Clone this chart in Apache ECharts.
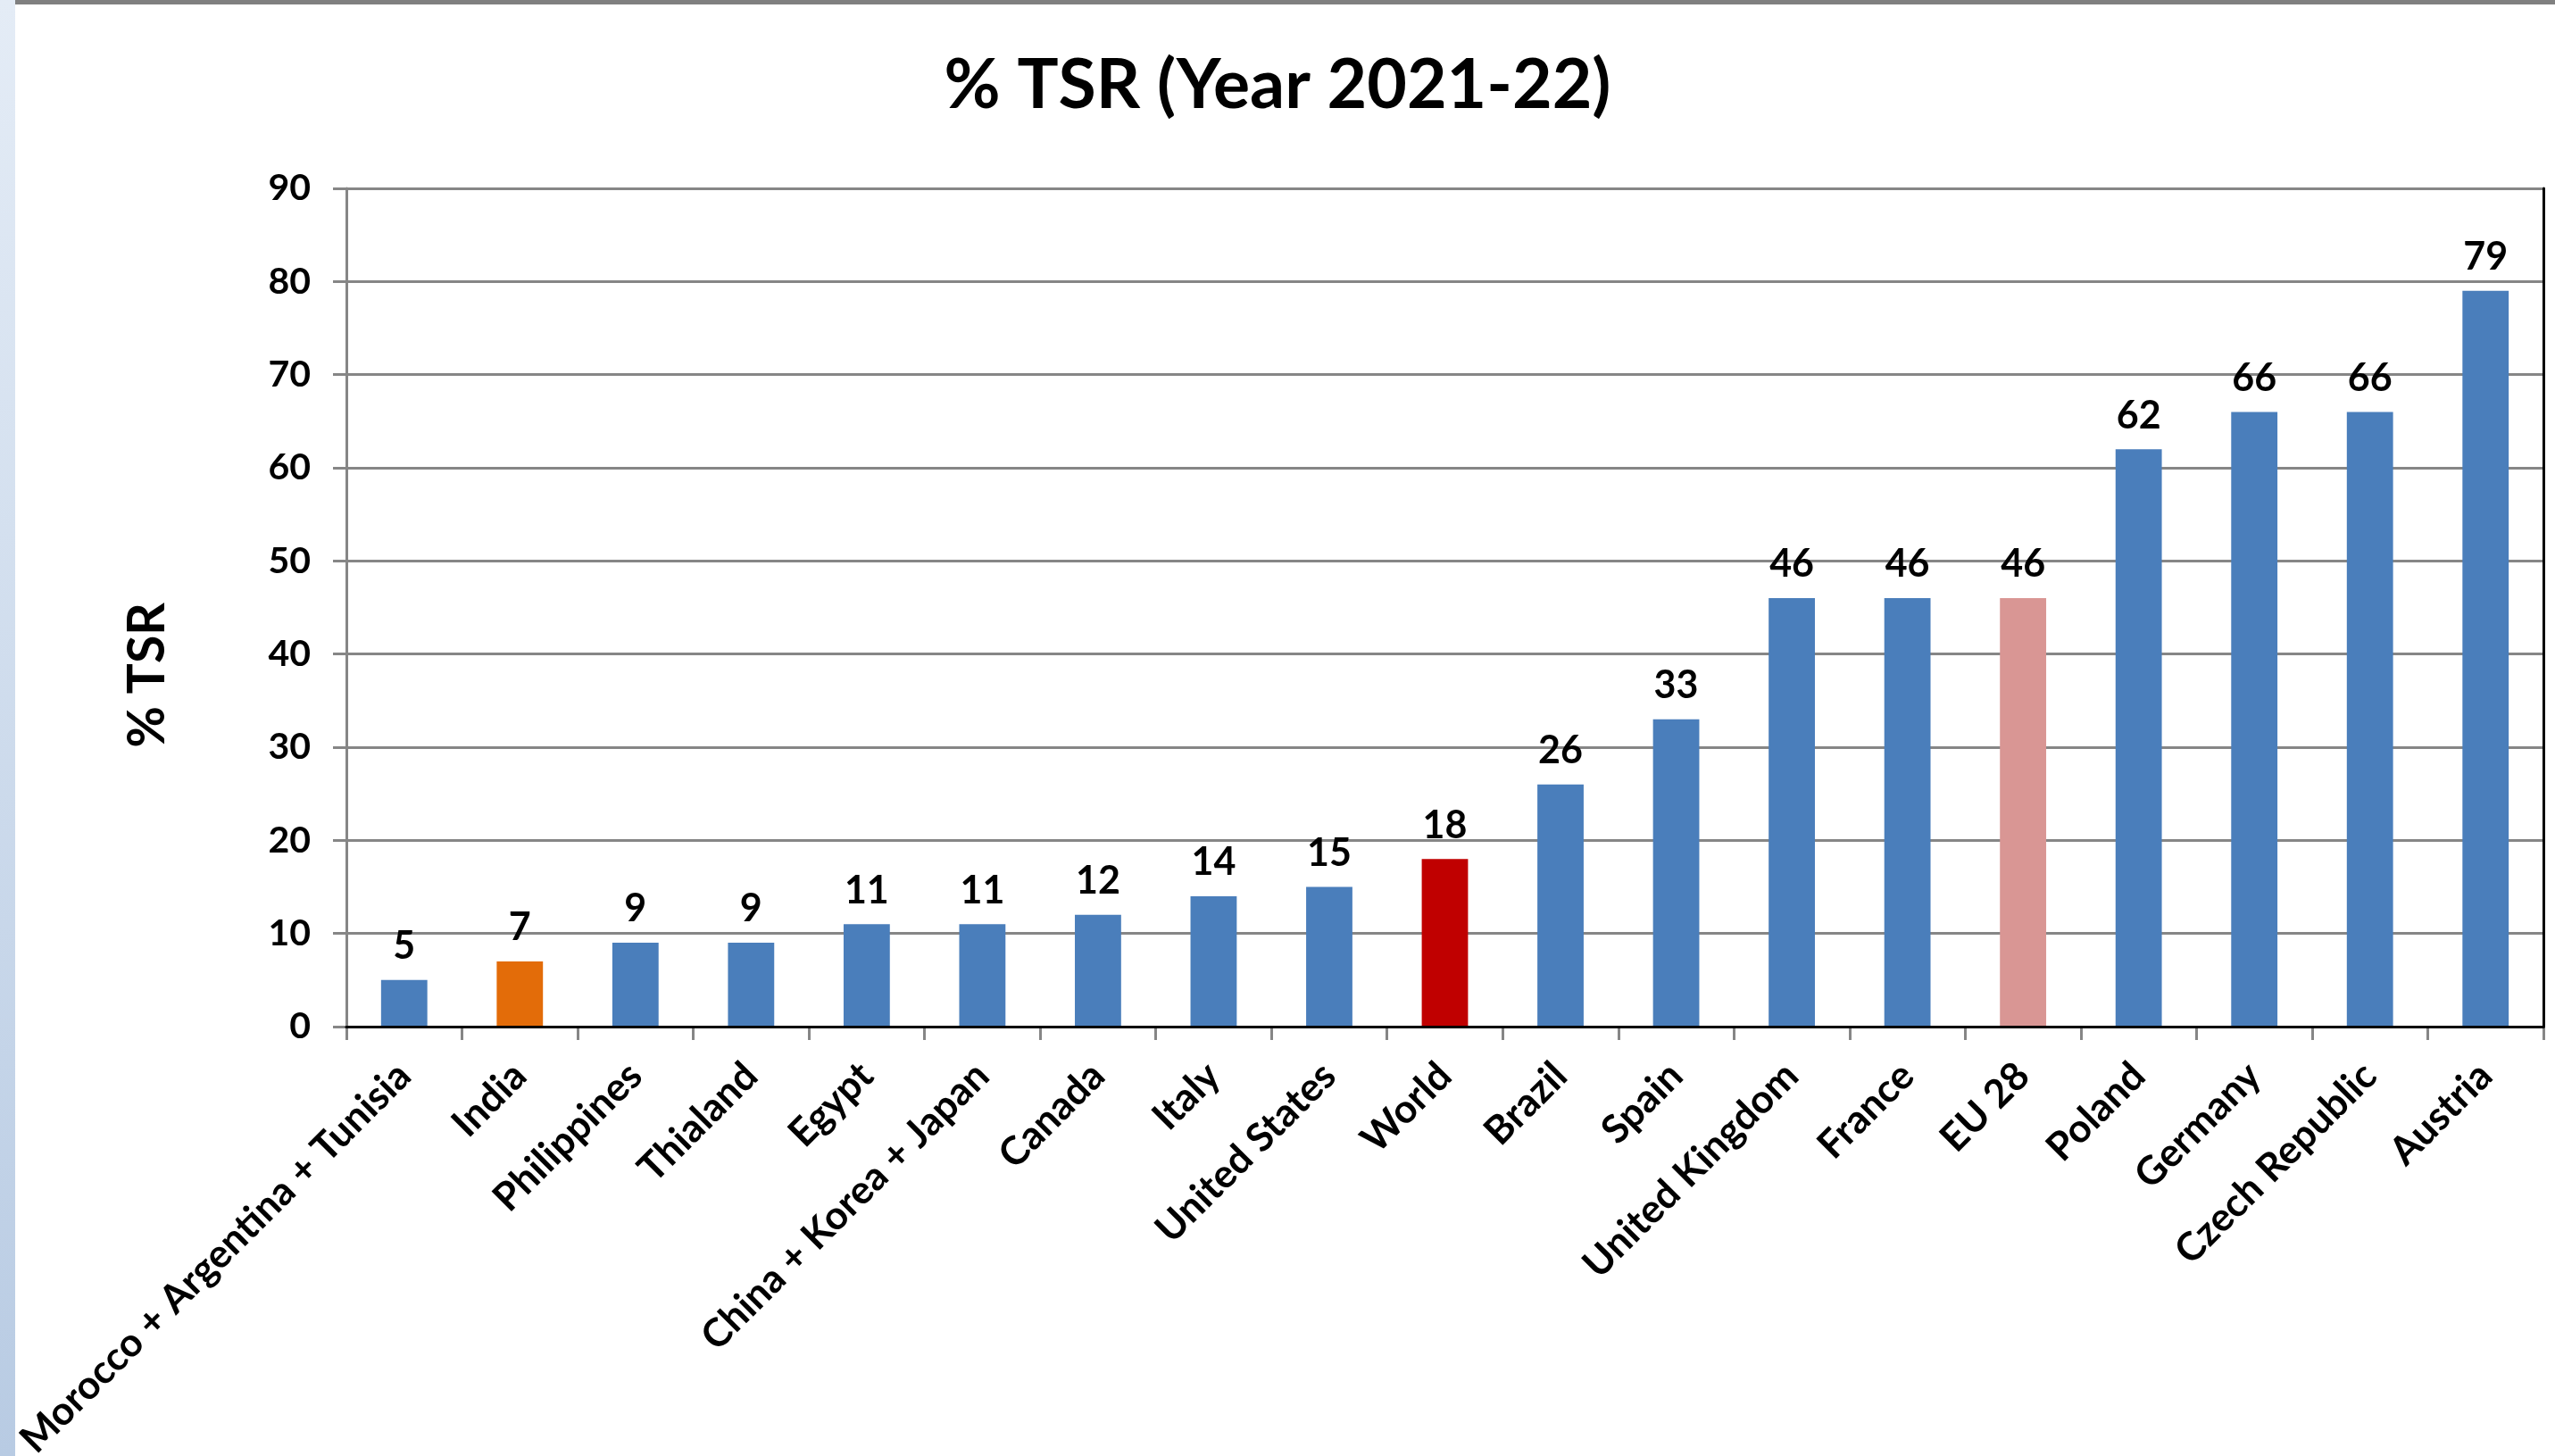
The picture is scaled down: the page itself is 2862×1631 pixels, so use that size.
<!DOCTYPE html>
<html>
<head>
<meta charset="utf-8">
<style>
html,body{margin:0;padding:0;background:#fff;}
#chart{width:2862px;height:1631px;}
</style>
<script src="https://cdn.jsdelivr.net/npm/echarts@6/dist/echarts.min.js"></script>
</head>
<body>
<div id="chart"></div>
<script>
const categories = ["Morocco + Argentina + Tunisia","India","Philippines","Thialand","Egypt","China + Korea + Japan","Canada","Italy","United States","World","Brazil","Spain","United Kingdom","France","EU 28","Poland","Germany","Czech Republic","Austria"];
const tsrValues = [5,7,9,9,11,11,12,14,15,18,26,33,46,46,46,62,66,66,79];
const yTicks = [0,10,20,30,40,50,60,70,80,90];

const FONT = 'Lato';
const baseColor = '#4a7ebb';
const highlight = {"India":"#e36c09","World":"#c00000","EU 28":"#d99694"};

const chart = echarts.init(document.getElementById('chart'));
chart.setOption({
  animation:false,
  backgroundColor:'#ffffff',
  title:{
    text:'% TSR (Year 2021-22)',
    left:'center', top:53,
    textStyle:{fontFamily:FONT,fontSize:77,fontWeight:'bold',color:'#000'}
  },
  graphic:[
    {type:'rect',left:0,top:0,shape:{width:17,height:1631},
     style:{fill:new echarts.graphic.LinearGradient(0,0,0,1,[{offset:0,color:'#e4ecf6'},{offset:1,color:'#b8cbe3'}])},silent:true},
    {type:'rect',left:17,top:0,shape:{width:2845,height:5},style:{fill:'#808080'},silent:true}
  ],
  grid:{left:388,right:13,top:211,bottom:481,show:false,containLabel:false,outerBoundsMode:'none'},
  xAxis:[{
    type:'category',
    data:categories,
    axisLine:{lineStyle:{color:'#868686',width:3}},
    axisTick:{show:true,length:15,lineStyle:{color:'#868686',width:3}},
    axisLabel:{interval:0,rotate:45,margin:48,fontFamily:FONT,fontSize:44,fontWeight:'bold',color:'#000'}
  },{
    type:'category',position:'top',data:categories,z:5,
    axisLine:{show:true,lineStyle:{color:'#000',width:3}},
    axisTick:{show:false},axisLabel:{show:false},splitLine:{show:false}
  }],
  yAxis:[{
    type:'value',min:yTicks[0],max:yTicks[yTicks.length-1],interval:10,
    name:'% TSR',nameLocation:'middle',nameGap:194,nameRotate:90,
    nameTextStyle:{fontFamily:FONT,fontSize:57,fontWeight:'bold',color:'#000',padding:[0,152,0,0]},
    axisLine:{show:true,lineStyle:{color:'#868686',width:3}},
    axisTick:{show:true,length:15,lineStyle:{color:'#868686',width:3}},
    axisLabel:{margin:40,fontFamily:FONT,fontSize:41,fontWeight:'bold',color:'#000'},
    splitLine:{show:true,lineStyle:{color:'#868686',width:3}}
  },{
    type:'value',position:'right',min:yTicks[0],max:yTicks[yTicks.length-1],interval:10,z:5,
    axisLine:{show:true,lineStyle:{color:'#000',width:3}},
    axisTick:{show:false},axisLabel:{show:false},splitLine:{show:false}
  }],
  series:[{
    type:'bar',
    data:tsrValues,
    barWidth:'40%',
    z:3,
    itemStyle:{color:function(p){return highlight[categories[p.dataIndex]]||baseColor;}},
    label:{show:true,position:'top',distance:16,fontFamily:FONT,fontSize:43,fontWeight:'bold',color:'#000'}
  }]
});
</script>
</body>
</html>
